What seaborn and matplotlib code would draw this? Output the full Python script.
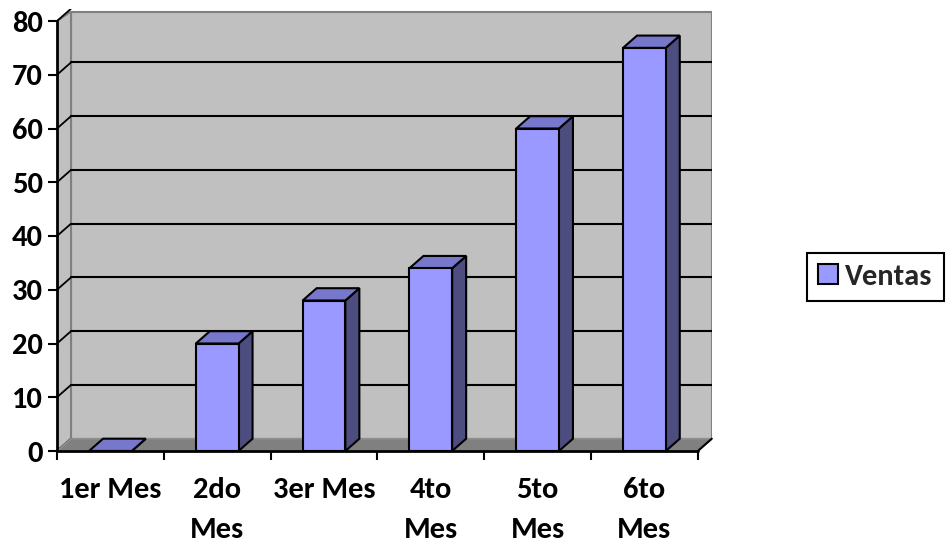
import matplotlib
matplotlib.use("Agg")
import matplotlib.pyplot as plt
import seaborn as sns
import numpy as np
import pandas as pd
from matplotlib.patches import Polygon, Patch

# ---- data ----
categories = ["1er Mes", "2do Mes", "3er Mes", "4to Mes", "5to Mes", "6to Mes"]
tick_labels = ["1er Mes", "2do\nMes", "3er Mes", "4to\nMes", "5to\nMes", "6to\nMes"]
ventas = [0, 20, 28, 34, 60, 75]
y_ticks = [0, 10, 20, 30, 40, 50, 60, 70, 80]
series_name = "Ventas"

# ---- styles ----
FRONT = "#9999FF"
TOP = "#7777CC"
SIDE = "#4D4D80"
WALL = "#C0C0C0"
FLOOR = "#808080"
FONT = ["Carlito", "Open Sans", "DejaVu Sans"]
FS = 22

sns.set_theme(style="white")
plt.rcParams["font.family"] = FONT
plt.rcParams["font.weight"] = "bold"

W, H = 948, 544
fig = plt.figure(figsize=(W / 100, H / 100), dpi=100)

n = len(categories)
px_per_cat = 106.8
px_per_unit = 5.375
dx = 14 / px_per_cat
dy = 12.3 / px_per_unit
wall_top = 80 + 9.5 / px_per_unit
ytop = 80 + dy
left_px, bottom_px = 57, 451
width_px = (n + dx) * px_per_cat
height_px = ytop * px_per_unit
ax = fig.add_axes([left_px / W, 1 - bottom_px / H, width_px / W, height_px / H])

df = pd.DataFrame({"Mes": categories, "Ventas": ventas})
sns.barplot(data=df, x="Mes", y="Ventas", color=FRONT, width=0.4,
            edgecolor="black", linewidth=1.5, saturation=1, ax=ax, zorder=5)

ax.set_xlim(-0.5, n - 0.5 + dx)
ax.set_ylim(0, ytop)
ax.set_xlabel("")
ax.set_ylabel("")
for s in ax.spines.values():
    s.set_visible(False)
ax.set_facecolor("none")

x0, x1 = -0.5, n - 0.5
# back wall
ax.add_patch(Polygon([(x0 + dx, dy), (x1 + dx, dy), (x1 + dx, wall_top), (x0 + dx, wall_top)],
                     closed=True, facecolor=WALL, edgecolor="#808080", lw=1.5, zorder=0.5))
# left side wall
ax.add_patch(Polygon([(x0, 0), (x0 + dx, dy), (x0 + dx, wall_top), (x0, 80)],
                     closed=True, facecolor=WALL, edgecolor="#808080", lw=1.5, zorder=0.6))
# gridlines
for v in y_ticks[1:-1]:
    ax.plot([x0 + dx, x1 + dx], [v + dy, v + dy], color="black", lw=1.5, zorder=1)
for v in y_ticks:
    ax.plot([x0, x0 + dx], [v, v + dy], color="black", lw=1.3, zorder=1)
# floor
ax.add_patch(Polygon([(x0, 0), (x1, 0), (x1 + dx, dy), (x0 + dx, dy)],
                     closed=True, facecolor=FLOOR, edgecolor="#909090", lw=1.2, zorder=1.5))
ax.plot([x1, x1 + dx], [0, dy], color="black", lw=1.5, zorder=2, clip_on=False)
# front axes lines
ax.plot([x0, x1], [0, 0], color="black", lw=2, zorder=6, clip_on=False)
ax.plot([x0, x0], [0, 80], color="black", lw=2, zorder=6, clip_on=False)

# 3D faces for bars
for p in list(ax.patches):
    if not hasattr(p, "get_width") or p.get_facecolor()[:3] != matplotlib.colors.to_rgb(FRONT):
        continue
    bx, bw, bh = p.get_x(), p.get_width(), p.get_height()
    p.set_zorder(5)
    side = Polygon([(bx + bw, 0), (bx + bw + dx, dy), (bx + bw + dx, bh + dy), (bx + bw, bh)],
                   closed=True, facecolor=SIDE, edgecolor="black", lw=1.5, zorder=4)
    top = Polygon([(bx, bh), (bx + bw, bh), (bx + bw + dx, bh + dy), (bx + dx, bh + dy)],
                  closed=True, facecolor=TOP, edgecolor="black", lw=1.5, zorder=4.5)
    ax.add_patch(side)
    ax.add_patch(top)

# ticks
ax.set_yticks(y_ticks)
ax.set_yticklabels([str(v) for v in y_ticks], fontweight="bold")
ax.tick_params(axis="y", left=True, length=6.5, width=1.5, color="black", pad=3.5,
               labelsize=FS, labelcolor="black")
ax.set_xticks(np.arange(n + 1) - 0.5)
ax.set_xticklabels([])
ax.set_xticks(np.arange(n), minor=True)
ax.set_xticklabels(tick_labels, minor=True, fontweight="bold")
ax.tick_params(axis="x", which="major", bottom=True, length=6.5, width=1.5, color="black")
ax.tick_params(axis="x", which="minor", bottom=True, length=0, pad=19, labelsize=FS,
               labelcolor="black")
for lab in ax.get_xticklabels(minor=True):
    lab.set_linespacing(1.66)

# legend
leg = fig.legend(handles=[Patch(facecolor=FRONT, edgecolor="black", lw=1.5, label=series_name)],
                 loc="center", bbox_to_anchor=(875.5 / W, 1 - 277 / H),
                 prop={"weight": "bold", "size": FS, "family": FONT},
                 frameon=True, fancybox=False, framealpha=1, edgecolor="black",
                 handlelength=0.63, handleheight=0.63, handletextpad=0.25,
                 borderpad=0.37, borderaxespad=0)
leg.get_frame().set_linewidth(1.5)

fig.savefig("out.png", dpi=100, facecolor="white")
